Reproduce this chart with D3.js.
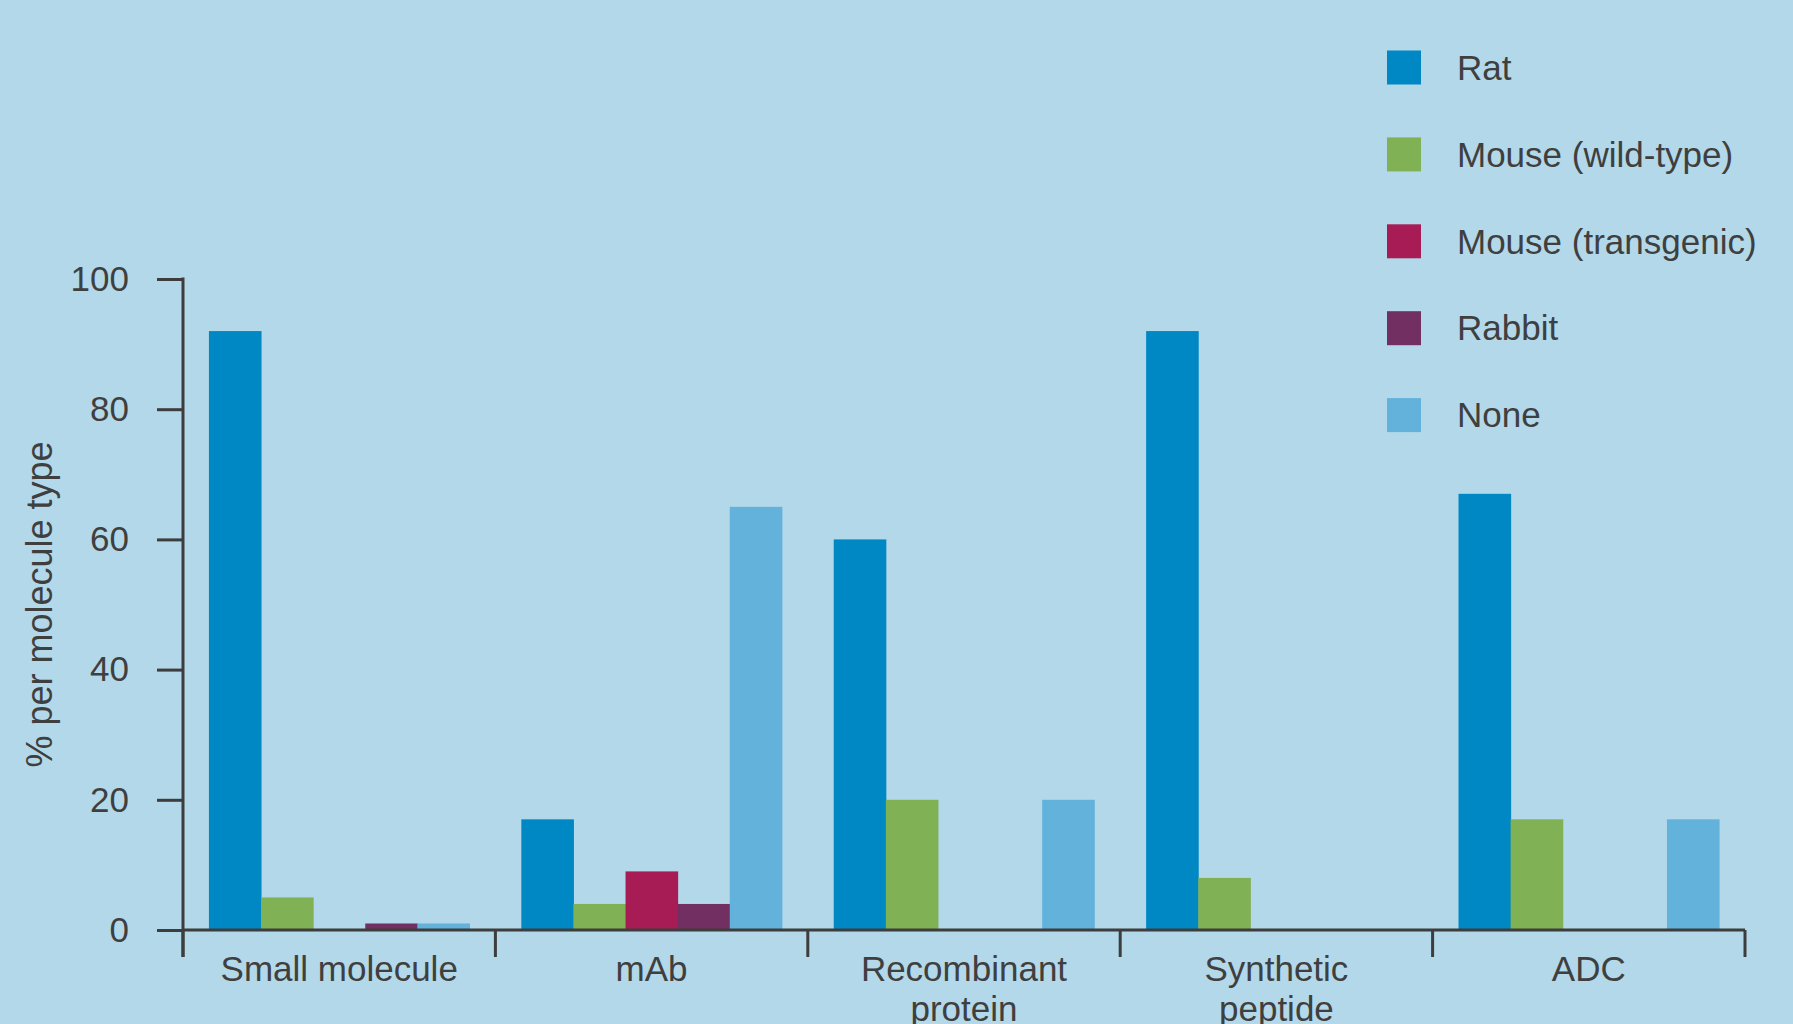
<!DOCTYPE html>
<html>
<head>
<meta charset="utf-8">
<script src="https://cdn.jsdelivr.net/npm/d3@7"></script>
<style>
  html, body { margin: 0; padding: 0; background: #b3d8e9; }
  svg { display: block; }
  text { font-family: "Liberation Sans", Arial, sans-serif; fill: #3f3f3f; }
</style>
</head>
<body>
<svg id="chart" width="1793" height="1024"></svg>
<script>
// Molecule types along the x axis (multi-line labels split on "\n")
const categories = ["Small molecule", "mAb", "Recombinant\nprotein", "Synthetic\npeptide", "ADC"];

// Species series
const seriesNames = ["Rat", "Mouse (wild-type)", "Mouse (transgenic)", "Rabbit", "None"];
const seriesColors = ["#0088c4", "#80b155", "#a81c55", "#722f62", "#62b2dc"];

// % per molecule type, one array per series, in category order
const rat        = [92, 17, 60, 92, 67];
const mouseWild  = [5, 4, 20, 8, 17];
const mouseTrans = [0, 9, 0, 0, 0];
const rabbit     = [1, 4, 0, 0, 0];
const none       = [1, 65, 20, 0, 17];

const yTicks = [0, 20, 40, 60, 80, 100];
const yTitle = "% per molecule type";

const seriesValues = [rat, mouseWild, mouseTrans, rabbit, none];

const svg = d3.select("#chart");
const plotLeft = 183, plotRight = 1745, plotTop = 279, plotBottom = 930;
const axisColor = "#3d3d3d";
const fontSize = 35;

const x0 = d3.scaleBand().domain(d3.range(categories.length)).range([plotLeft, plotRight]).paddingInner(0).paddingOuter(0);
const groupPad = x0.bandwidth() * 0.083;
const x1 = d3.scaleBand().domain(d3.range(seriesNames.length)).range([groupPad, x0.bandwidth() - groupPad]).padding(0);
const y = d3.scaleLinear().domain([0, 100]).range([plotBottom, plotTop]);

// Bars
const groups = svg.append("g").selectAll("g")
  .data(categories.map((c, i) => i))
  .join("g")
  .attr("transform", i => `translate(${x0(i)},0)`);

groups.selectAll("rect")
  .data(ci => seriesValues.map((vals, si) => ({ si, v: vals[ci] })).filter(d => d.v > 0))
  .join("rect")
  .attr("x", d => x1(d.si))
  .attr("width", x1.bandwidth() + 0.5)
  .attr("y", d => y(d.v))
  .attr("height", d => y(0) - y(d.v))
  .attr("fill", d => seriesColors[d.si]);

// Y axis
const yAxis = svg.append("g")
  .attr("transform", `translate(${plotLeft},0)`)
  .call(d3.axisLeft(y).tickValues(yTicks).tickSize(26).tickPadding(28).tickSizeOuter(0));
yAxis.select(".domain").remove();
yAxis.selectAll(".tick line").attr("stroke", axisColor).attr("stroke-width", 3);
yAxis.selectAll(".tick text")
  .attr("font-size", fontSize)
  .attr("font-family", "Liberation Sans, Arial, sans-serif")
  .attr("fill", "#3f3f3f");
svg.append("line")
  .attr("x1", plotLeft).attr("x2", plotLeft)
  .attr("y1", plotTop - 1.5).attr("y2", plotBottom + 27)
  .attr("stroke", axisColor).attr("stroke-width", 3);

// X axis line and group separators
svg.append("line")
  .attr("x1", plotLeft).attr("x2", plotRight)
  .attr("y1", plotBottom).attr("y2", plotBottom)
  .attr("stroke", axisColor).attr("stroke-width", 3);
const bounds = d3.range(categories.length).map(i => x0(i)).concat([x0.range()[1]]);
svg.append("g").selectAll("line")
  .data(bounds)
  .join("line")
  .attr("x1", d => d).attr("x2", d => d)
  .attr("y1", plotBottom).attr("y2", plotBottom + 27)
  .attr("stroke", axisColor).attr("stroke-width", 3);

// Category labels
svg.append("g").selectAll("text")
  .data(categories.map((c, i) => ({ c, i })))
  .join("text")
  .attr("x", d => x0(d.i) + x0.bandwidth() / 2)
  .attr("y", 981)
  .attr("text-anchor", "middle")
  .attr("font-size", fontSize)
  .each(function(d) {
    const lines = d.c.split("\n");
    d3.select(this).selectAll("tspan")
      .data(lines)
      .join("tspan")
      .attr("x", x0(d.i) + x0.bandwidth() / 2)
      .attr("dy", (l, k) => k === 0 ? 0 : 40)
      .text(l => l);
  });

// Y axis title
svg.append("text")
  .attr("transform", `translate(52,${(plotTop + plotBottom) / 2}) rotate(-90)`)
  .attr("text-anchor", "middle")
  .attr("font-size", 36)
  .text(yTitle);

// Legend
const legend = svg.append("g").selectAll("g")
  .data(seriesNames.map((n, i) => ({ n, i })))
  .join("g")
  .attr("transform", d => `translate(1387,${67.5 + d.i * 86.9})`);
legend.append("rect")
  .attr("x", 0).attr("y", -17)
  .attr("width", 34).attr("height", 34)
  .attr("fill", d => seriesColors[d.i]);
legend.append("text")
  .attr("x", 70).attr("y", 0)
  .attr("dy", "0.35em")
  .attr("font-size", fontSize)
  .text(d => d.n);
</script>
</body>
</html>
